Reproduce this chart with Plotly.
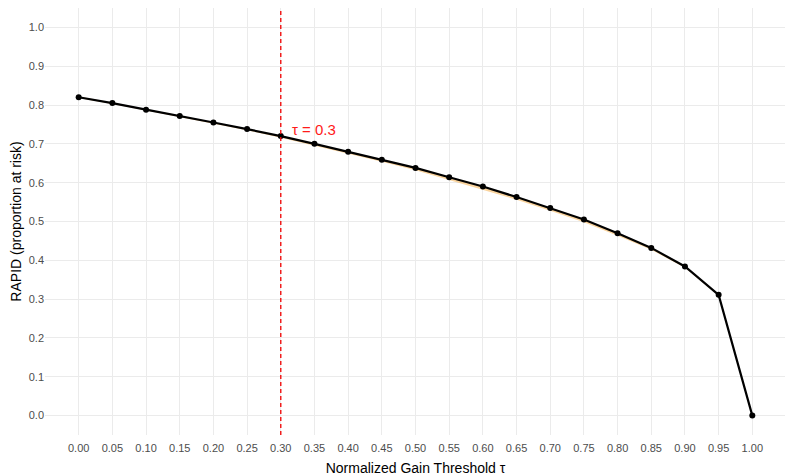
import plotly.graph_objects as go

# threshold grid and RAPID estimates
tau = [0.00, 0.05, 0.10, 0.15, 0.20, 0.25, 0.30, 0.35, 0.40, 0.45, 0.50,
       0.55, 0.60, 0.65, 0.70, 0.75, 0.80, 0.85, 0.90, 0.95, 1.00]
rapid = [0.820, 0.805, 0.788, 0.772, 0.755, 0.738, 0.720, 0.700, 0.680, 0.659, 0.638,
         0.614, 0.590, 0.563, 0.535, 0.505, 0.470, 0.432, 0.384, 0.311, 0.000]
rapid_lo = [0.818, 0.803, 0.786, 0.769, 0.752, 0.735, 0.716, 0.696, 0.675, 0.654, 0.632,
            0.607, 0.583, 0.556, 0.528, 0.498, 0.463, 0.427, 0.381, 0.309, 0.000]
rapid_hi = [0.822, 0.806, 0.789, 0.773, 0.756, 0.739, 0.721, 0.701, 0.681, 0.660, 0.639,
            0.615, 0.591, 0.564, 0.536, 0.506, 0.471, 0.433, 0.385, 0.312, 0.000]
x_ticks = [round(0.05 * i, 2) for i in range(21)]
y_ticks = [round(0.1 * i, 1) for i in range(11)]
tau_cut = 0.3

fig = go.Figure()

# orange uncertainty ribbon
fig.add_trace(go.Scatter(x=tau, y=rapid_hi, mode="lines", line=dict(width=0),
                         hoverinfo="skip", showlegend=False))
fig.add_trace(go.Scatter(x=tau, y=rapid_lo, mode="lines", line=dict(width=0),
                         fill="tonexty", fillcolor="rgba(245,160,40,0.45)",
                         hoverinfo="skip", showlegend=False))

fig.add_trace(go.Scatter(x=tau, y=rapid, mode="lines+markers",
                         line=dict(color="black", width=2.2),
                         marker=dict(color="black", size=6),
                         showlegend=False))

fig.add_vline(x=tau_cut, line=dict(color="#F01010", width=1.4, dash="4px,3px"))
fig.add_annotation(x=tau_cut + 0.05, y=0.738, text="τ = 0.3", showarrow=False,
                   font=dict(color="#FF1A1A", size=15))

axis_common = dict(showgrid=True, gridcolor="#EBEBEB", gridwidth=1.2, zeroline=False,
                   showline=False, ticks="", automargin=False,
                   tickfont=dict(size=11, color="#4D4D4D"))

# page body keeps its default 8px margin, so the figure is a bit smaller
fig.update_layout(
    width=785, height=469,
    margin=dict(l=37, r=7, t=0, b=42),
    plot_bgcolor="white", paper_bgcolor="white",
    font=dict(family="Liberation Sans, Arial, sans-serif"),
    xaxis=dict(range=[-0.05, 1.05], tickvals=x_ticks,
               ticktext=[f"{v:.2f}" for v in x_ticks],
               ticklabelstandoff=5,
               title=dict(text="Normalized Gain Threshold τ", font=dict(size=14, color="black"),
                          standoff=10),
               **axis_common),
    yaxis=dict(range=[-0.05, 1.05], tickvals=y_ticks,
               ticktext=[f"{v:.1f}" for v in y_ticks],
               title=dict(text="RAPID (proportion at risk)", font=dict(size=14, color="black"),
                          standoff=4),
               **axis_common),
)

fig.write_html("out.html")
